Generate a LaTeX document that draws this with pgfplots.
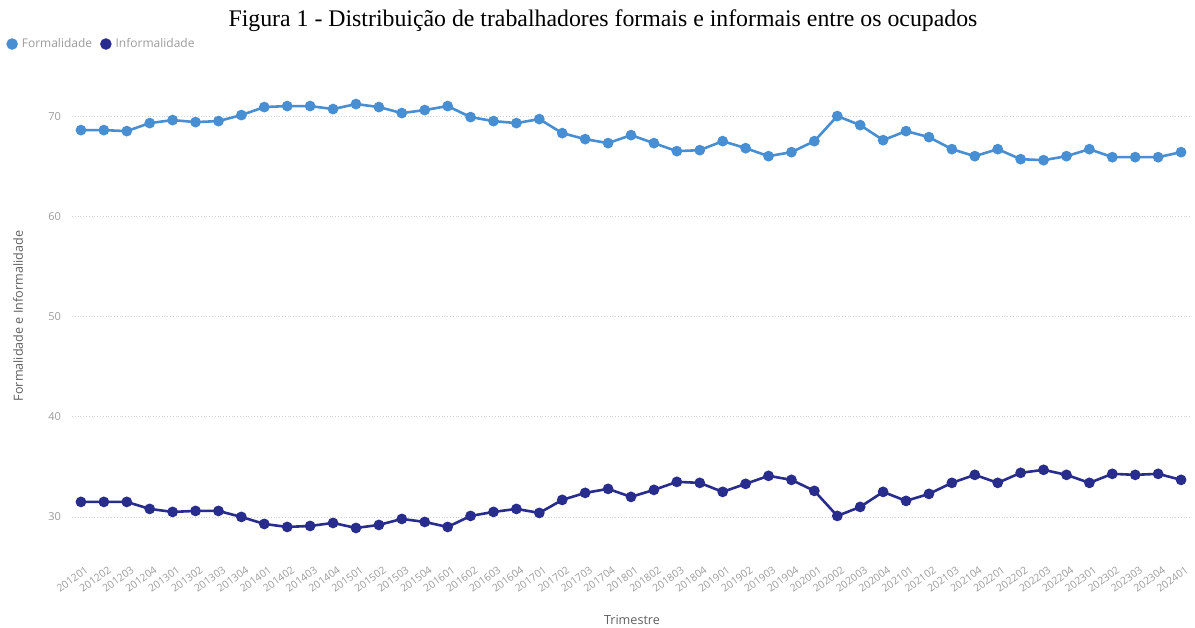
\documentclass[border=0pt]{standalone}
\usepackage{fontspec}
\setmainfont{Open Sans}
\newfontfamily\titlefont{Liberation Serif}
\usepackage{pgfplots}
\usepackage{pgfplotstable}
\pgfplotsset{compat=1.18}
\definecolor{formal}{RGB}{72,142,210}
\definecolor{informal}{RGB}{40,44,140}
\definecolor{tick}{RGB}{155,155,155}
\definecolor{lbl}{RGB}{95,95,95}

\pgfplotstableread{
x f i
0 68.6 31.5
1 68.6 31.5
2 68.5 31.5
3 69.3 30.8
4 69.6 30.5
5 69.4 30.6
6 69.5 30.6
7 70.1 30.0
8 70.9 29.3
9 71.0 29.0
10 71.0 29.1
11 70.7 29.4
12 71.2 28.9
13 70.9 29.2
14 70.3 29.8
15 70.6 29.5
16 71.0 29.0
17 69.9 30.1
18 69.5 30.5
19 69.3 30.8
20 69.7 30.4
21 68.3 31.7
22 67.7 32.4
23 67.3 32.8
24 68.1 32.0
25 67.3 32.7
26 66.5 33.5
27 66.6 33.4
28 67.5 32.5
29 66.8 33.3
30 66.0 34.1
31 66.4 33.7
32 67.5 32.6
33 70.0 30.1
34 69.1 31.0
35 67.6 32.5
36 68.5 31.6
37 67.9 32.3
38 66.7 33.4
39 66.0 34.2
40 66.7 33.4
41 65.7 34.4
42 65.6 34.7
43 66.0 34.2
44 66.7 33.4
45 65.9 34.3
46 65.9 34.2
47 65.9 34.3
48 66.4 33.7
}\datatable

\begin{document}
\begin{tikzpicture}
\path[use as bounding box] (0pt,0pt) rectangle (597.5pt,313.5pt);
\begin{axis}[
  at={(36pt,39.5pt)}, anchor=south west,
  scale only axis, width=559pt, height=236.5pt,
  xmin=-0.39, xmax=48.39, ymin=26.9, ymax=74.1,
  axis line style={draw=none},
  tick style={draw=none},
  ytick={30,40,50,60,70},
  xtick={0,...,48},
  xticklabels={201201,201202,201203,201204,201301,201302,201303,201304,201401,201402,201403,201404,201501,201502,201503,201504,201601,201602,201603,201604,201701,201702,201703,201704,201801,201802,201803,201804,201901,201902,201903,201904,202001,202002,202003,202004,202101,202102,202103,202104,202201,202202,202203,202204,202301,202302,202303,202304,202401},
  /pgf/number format/assume math mode=true,
  yticklabel style={font=\fontsize{5.5}{6}\selectfont, text=tick, xshift=-2pt},
  xticklabel style={font=\fontsize{5.2}{6}\selectfont, text=tick, rotate=36, anchor=east, yshift=-10pt, xshift=-3pt, inner sep=0.5pt},
  ymajorgrids,
  grid style={densely dotted, gray!35, line width=0.4pt},
  legend columns=2,
  legend cell align=left,
  legend style={at={(-0.0590,1.0655)}, anchor=west, draw=none, fill=none, inner sep=0pt,
    font=\fontsize{6}{7}\selectfont, text=tick, /tikz/every even column/.append style={column sep=2pt}},
  legend image code/.code={\fill[#1] (0.05cm,0cm) circle (2.2pt);},
]
\addplot[color=formal, line width=1.3pt, mark=*, mark size=2pt] table[x=x, y=f] {\datatable};
\addlegendentry{Formalidade}
\addplot[color=informal, line width=1.3pt, mark=*, mark size=2pt] table[x=x, y=i] {\datatable};
\addlegendentry{Informalidade}
\end{axis}
\node[font=\titlefont\fontsize{11.9}{14}\selectfont, anchor=center] at (301.5pt,303pt) {Figura 1 - Distribuição de trabalhadores formais e informais entre os ocupados};
\node[font=\fontsize{6.3}{7}\selectfont, text=lbl, rotate=90] at (9pt,155.5pt) {Formalidade e Informalidade};
\node[font=\fontsize{6.3}{7}\selectfont, text=lbl] at (316pt,3.5pt) {Trimestre};
\end{tikzpicture}
\end{document}
